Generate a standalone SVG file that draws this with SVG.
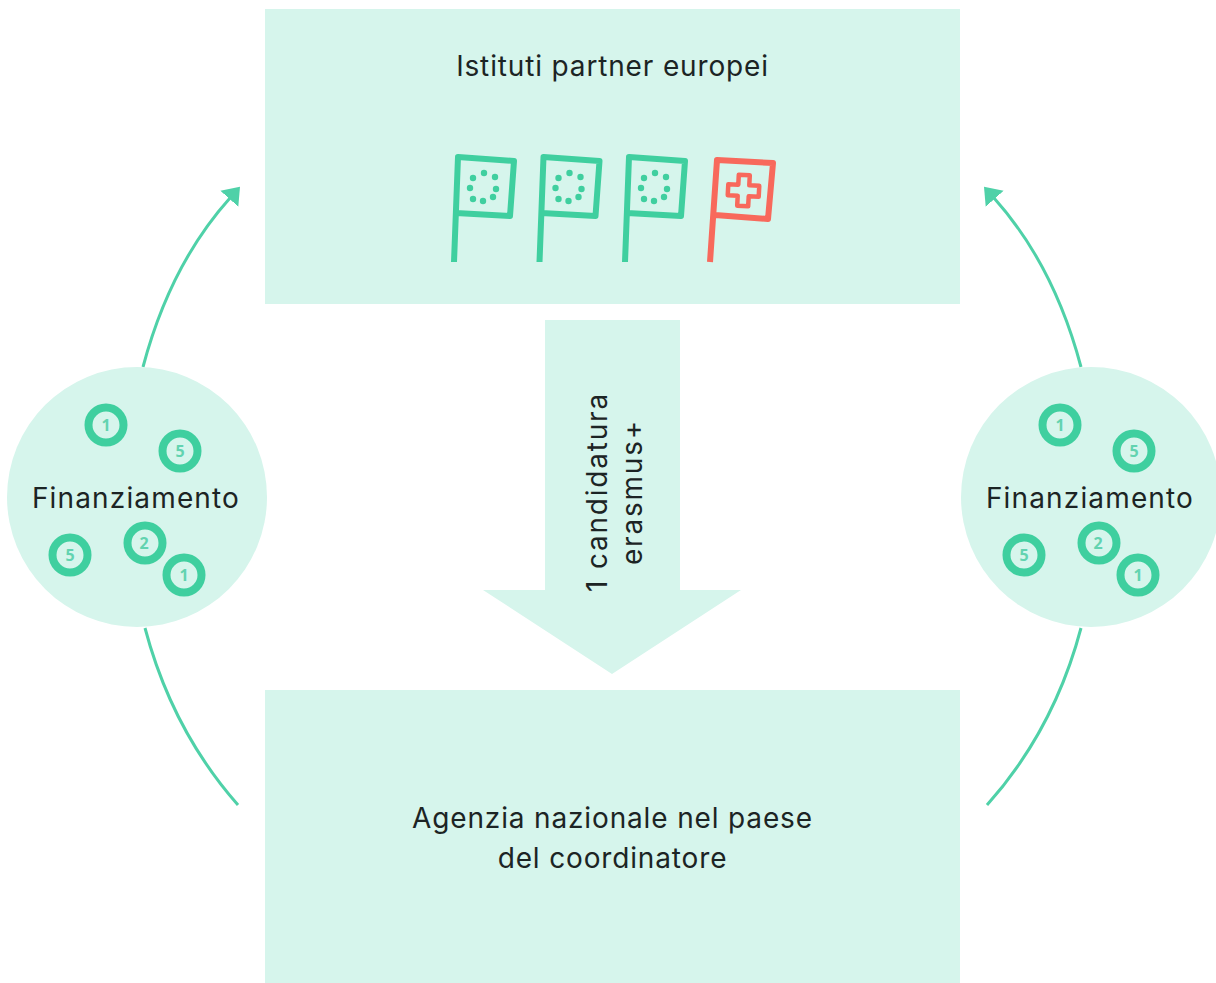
<svg xmlns="http://www.w3.org/2000/svg" width="1216" height="983" viewBox="0 0 1216 983">
<defs>
<style>
.bg{fill:#d6f5ec}
.t{font-family:Inter,"Liberation Sans",sans-serif;font-size:28px;fill:#1c2424;text-anchor:middle;letter-spacing:.85px}
.f{letter-spacing:1.15px}
.r{letter-spacing:1.8px}
.conn{fill:none;stroke:#4fd1a8;stroke-width:3}
.coin{fill:none;stroke:#3fcf9f;stroke-width:8}
.cn{font-family:"Open Sans","Liberation Sans",sans-serif;font-size:16px;font-weight:700;fill:#62d3b0;text-anchor:middle}
.flag{fill:none;stroke:#3fcf9f;stroke-width:6;stroke-linejoin:round}
.red{fill:none;stroke:#f8695c;stroke-width:6;stroke-linejoin:round}
.dot{fill:#3fcf9f}
</style>
<marker id="head" markerUnits="userSpaceOnUse" markerWidth="20" markerHeight="28" refX="1" refY="14" orient="auto">
<path d="M0,2 L16,14 L0,26 Z" fill="#4fd1a8"/>
</marker>
<g id="stars">
<circle class="dot" cx="484" cy="173" r="3.2"/><circle class="dot" cx="495" cy="177" r="3.2"/><circle class="dot" cx="496" cy="189" r="3.2"/><circle class="dot" cx="493" cy="197" r="3.2"/><circle class="dot" cx="483" cy="201" r="3.2"/><circle class="dot" cx="473" cy="199" r="3.2"/><circle class="dot" cx="470" cy="188" r="3.2"/><circle class="dot" cx="473" cy="178" r="3.2"/>
</g>
<path id="eu" class="flag" d="M454,262 L458,157 L514,161 L510,216 L456,213"/>
</defs>
<rect width="1216" height="983" fill="#fff"/>
<g id="connectors">
<path class="conn" d="M143,367 Q170,265 230,198" marker-end="url(#head)"/>
<path class="conn" d="M1081,367 Q1054,265 994,198" marker-end="url(#head)"/>
<path class="conn" d="M145,628 Q172,730 238,805"/>
<path class="conn" d="M1081,628 Q1054,730 987,805"/>
</g>
<g id="partner-institutes">
<rect class="bg" x="265" y="9" width="695" height="295"/>
<text class="t" x="612.5" y="76">Istituti partner europei</text>
<use href="#eu"/><use href="#stars"/>
<use href="#eu" x="85.5"/><use href="#stars" x="85.5"/>
<use href="#eu" x="171"/><use href="#stars" x="171"/>
<path class="red" d="M710,262 L717,160 L773,163 L768,219 L715,215"/>
<path d="M738,175 L749,175 L749,185 L759,185 L759,196 L749,196 L749,206 L738,206 L738,196 L728,196 L728,185 L738,185 Z" fill="none" stroke="#f8695c" stroke-width="4.5" stroke-linejoin="round" transform="rotate(3 743.5 190.5)"/>
</g>
<g id="application-arrow">
<path class="bg" d="M545,320 H680 V590 H741 L612,674 L483,590 H545 Z"/>
<text class="t r" transform="translate(607,492) rotate(-90)">1 candidatura</text>
<text class="t r" transform="translate(642,492) rotate(-90)">erasmus+</text>
</g>
<g id="national-agency">
<rect class="bg" x="265" y="690" width="695" height="293"/>
<text class="t" x="612.5" y="828">Agenzia nazionale nel paese</text>
<text class="t" x="612.5" y="868">del coordinatore</text>
</g>
<g id="funding-left">
<circle class="bg" cx="137" cy="497" r="130"/>
<text class="t f" x="136" y="508">Finanziamento</text>
<circle class="coin" cx="106" cy="425" r="17.5"/><text class="cn" x="106" y="431">1</text>
<circle class="coin" cx="180" cy="451" r="17.5"/><text class="cn" x="180" y="457">5</text>
<circle class="coin" cx="70" cy="555" r="17.5"/><text class="cn" x="70" y="561">5</text>
<circle class="coin" cx="145" cy="543" r="17.5"/><text class="cn" x="144" y="549">2</text>
<circle class="coin" cx="184" cy="575" r="17.5"/><text class="cn" x="184" y="581">1</text>
</g>
<g id="funding-right">
<circle class="bg" cx="1091" cy="497" r="130"/>
<text class="t f" x="1090" y="508">Finanziamento</text>
<circle class="coin" cx="1060" cy="425" r="17.5"/><text class="cn" x="1060" y="431">1</text>
<circle class="coin" cx="1134" cy="451" r="17.5"/><text class="cn" x="1134" y="457">5</text>
<circle class="coin" cx="1024" cy="555" r="17.5"/><text class="cn" x="1024" y="561">5</text>
<circle class="coin" cx="1099" cy="543" r="17.5"/><text class="cn" x="1098" y="549">2</text>
<circle class="coin" cx="1138" cy="575" r="17.5"/><text class="cn" x="1138" y="581">1</text>
</g>
</svg>
